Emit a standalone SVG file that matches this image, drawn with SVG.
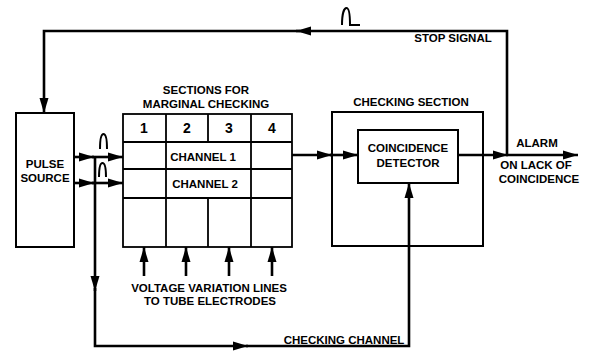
<svg xmlns="http://www.w3.org/2000/svg" width="597" height="351" viewBox="0 0 597 351">
<defs>
<marker id="ah" markerUnits="userSpaceOnUse" markerWidth="16" markerHeight="10" refX="15" refY="5" orient="auto">
<path d="M0,0.5 L15,5 L0,9.5 Z" fill="#000"/>
</marker>
<style>
.box{fill:none;stroke:#000;stroke-width:2}
.grid{fill:none;stroke:#000;stroke-width:1.8}
.ln{fill:none;stroke:#000;stroke-width:2.6;stroke-linejoin:miter}
.ar{fill:none;stroke:#000;stroke-width:2.6;marker-end:url(#ah)}
.pulse{fill:none;stroke:#000;stroke-width:2}
text{font-family:"Liberation Sans",Arial,sans-serif;font-weight:bold;font-size:11.5px;fill:#000;text-anchor:middle}
.num{font-size:14px}
</style>
</defs>
<rect width="597" height="351" fill="#fff"/>

<g id="pulse-source">
<rect class="box" x="16" y="113" width="58" height="134"/>
<text x="45" y="168">PULSE</text>
<text x="45" y="182">SOURCE</text>
</g>

<g id="marginal-sections">
<text x="206" y="94">SECTIONS FOR</text>
<text x="206" y="108">MARGINAL CHECKING</text>
<rect class="grid" x="123" y="114" width="169" height="133"/>
<line class="grid" x1="123" y1="142" x2="292" y2="142"/>
<line class="grid" x1="123" y1="169" x2="292" y2="169"/>
<line class="grid" x1="123" y1="198" x2="292" y2="198"/>
<line class="grid" x1="166" y1="114" x2="166" y2="247"/>
<line class="grid" x1="251" y1="114" x2="251" y2="247"/>
<line class="grid" x1="208" y1="114" x2="208" y2="142"/>
<line class="grid" x1="208" y1="198" x2="208" y2="247"/>
<text class="num" x="144" y="133">1</text>
<text class="num" x="187" y="133">2</text>
<text class="num" x="229" y="133">3</text>
<text class="num" x="272" y="133">4</text>
<text x="203" y="161">CHANNEL 1</text>
<text x="205" y="188">CHANNEL 2</text>
</g>

<g id="checking-section">
<text x="411" y="106">CHECKING SECTION</text>
<rect class="box" x="332" y="112" width="151" height="134"/>
</g>

<g id="coincidence-detector">
<rect class="box" x="358" y="130" width="100" height="53"/>
<text x="408" y="152">COINCIDENCE</text>
<text x="408" y="167">DETECTOR</text>
</g>

<g id="labels">
<text x="453" y="42">STOP SIGNAL</text>
<text x="537" y="147">ALARM</text>
<text x="536" y="169">ON LACK OF</text>
<text x="539" y="183">COINCIDENCE</text>
<text x="209" y="292">VOLTAGE VARIATION LINES</text>
<text x="210" y="305">TO TUBE ELECTRODES</text>
<text x="344" y="344">CHECKING CHANNEL</text>
</g>

<g id="connectors">
<polyline class="ar" points="507,155 507,31 296,31"/>
<polyline class="ar" points="300,31 44,31 44,113"/>
<line class="ar" x1="74" y1="157" x2="94" y2="157"/>
<line class="ar" x1="92" y1="157" x2="123" y2="157"/>
<line class="ar" x1="74" y1="183" x2="94" y2="183"/>
<line class="ar" x1="92" y1="183" x2="123" y2="183"/>
<polyline class="ar" points="95,156 95,291"/>
<polyline class="ar" points="95,288 95,346 248,346"/>
<polyline class="ar" points="246,346 409,346 409,183"/>
<line class="ar" x1="292" y1="155" x2="332" y2="155"/>
<line class="ar" x1="330" y1="155" x2="358" y2="155"/>
<line class="ar" x1="458" y1="155" x2="508" y2="155"/>
<line class="ar" x1="506" y1="155" x2="578" y2="155"/>
<line class="ar" x1="144" y1="276" x2="144" y2="247"/>
<line class="ar" x1="186" y1="276" x2="186" y2="247"/>
<line class="ar" x1="229" y1="276" x2="229" y2="247"/>
<line class="ar" x1="272" y1="276" x2="272" y2="247"/>
<path class="pulse" d="M100,149 C100,140 101,134 103.5,134 C106,134 107,140 107,149"/>
<path class="pulse" d="M99,177 C99,168 100,163 102.5,163 C105,163 106,168 106,177"/>
<path class="pulse" d="M342,25 C342,14 344,8 346.5,8 C349,8 350,14 350,25 L360,25"/>
</g>
</svg>
